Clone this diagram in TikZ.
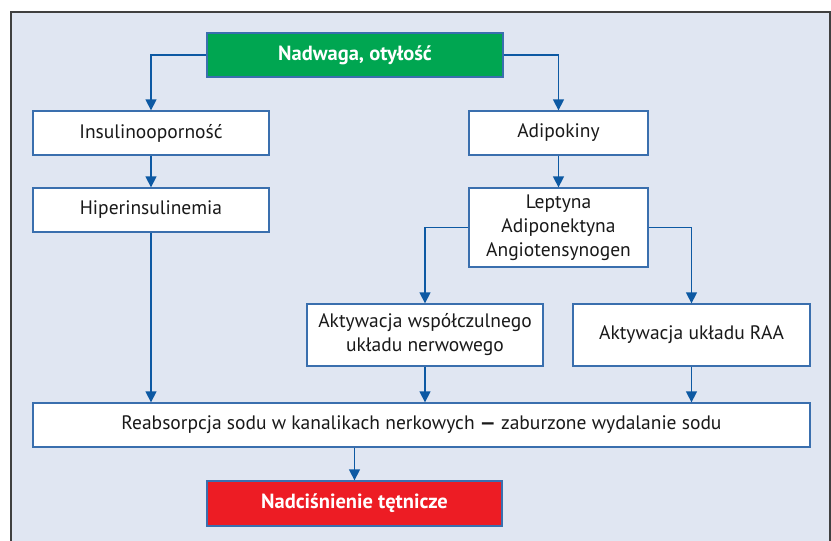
\documentclass[tikz,border=0pt]{standalone}
\usepackage{fontspec}
\setmainfont{PT Sans}
\usepackage{tikz}
\usetikzlibrary{arrows.meta}

\definecolor{tlo}{HTML}{E0E6F2}
\definecolor{ramka}{HTML}{3A6FAE}
\definecolor{strzalka}{HTML}{0D59A3}
\definecolor{zielony}{HTML}{00A651}
\definecolor{czerwony}{HTML}{ED1C24}

\begin{document}
\begin{tikzpicture}[x=1pt,y=-1pt,
    box/.style={draw=ramka,line width=1.3pt,fill=white,align=center,inner sep=0pt,
      font=\fontsize{19.5}{24}\selectfont,text=black!90},
    hot/.style={box,font=\fontsize{20.5}{24}\selectfont\bfseries,text=white},
    arr/.style={-{Triangle[width=11pt,length=11pt]},draw=strzalka,line width=1.4pt}]
        \useasboundingbox (0,0) rectangle (831,541);
        \draw[fill=tlo,draw=black!75,line width=1.5pt] (11,12) rectangle (830,570);
        \node[hot,fill=zielony,minimum width=296pt,minimum height=44pt] (otylosc) at (355,55) {Nadwaga, otyłość};
        \node[box,minimum width=236pt,minimum height=44pt] (insulino) at (151,133) {Insulinooporność};
        \node[box,minimum width=236pt,minimum height=44pt] (hiper) at (151,210) {Hiperinsulinemia};
        \node[box,minimum width=179pt,minimum height=44pt] (adipo) at (558.5,133) {Adipokiny};
        \node[box,minimum width=179pt,minimum height=79pt] (leptyna) at (558.5,227.5) {Leptyna\\Adiponektyna\\Angiotensynogen};
        \node[box,minimum width=236pt,minimum height=62pt] (wspolcz) at (425,335) {Aktywacja współczulnego\\układu nerwowego};
        \node[box,minimum width=237pt,minimum height=62pt] (raa) at (691.5,335) {Aktywacja układu RAA};
        \node[box,minimum width=777pt,minimum height=44pt] (reabs) at (421.5,425) {Reabsorpcja sodu w kanalikach nerkowych \textbf{---} zaburzone wydalanie sodu};
        \node[hot,fill=czerwony,minimum width=295pt,minimum height=45pt] (nadcis) at (354.5,503.5) {Nadciśnienie tętnicze};
        \draw[arr] (otylosc.west) -| (insulino.north);
        \draw[arr] (otylosc.east) -| (adipo.north);
        \draw[arr] (insulino) -- (hiper);
        \draw[arr] (adipo) -- (leptyna);
        \draw[arr] (leptyna.west) -| (wspolcz.north);
        \draw[arr] (leptyna.east) -| (raa.north);
        \draw[arr] (hiper.south) -- (hiper.south |- reabs.north);
        \draw[arr] (wspolcz.south) -- (wspolcz.south |- reabs.north);
        \draw[arr] (raa.south) -- (raa.south |- reabs.north);
        \draw[arr] (nadcis.north |- reabs.south) -- (nadcis.north);
      \end{tikzpicture}
\end{document}
